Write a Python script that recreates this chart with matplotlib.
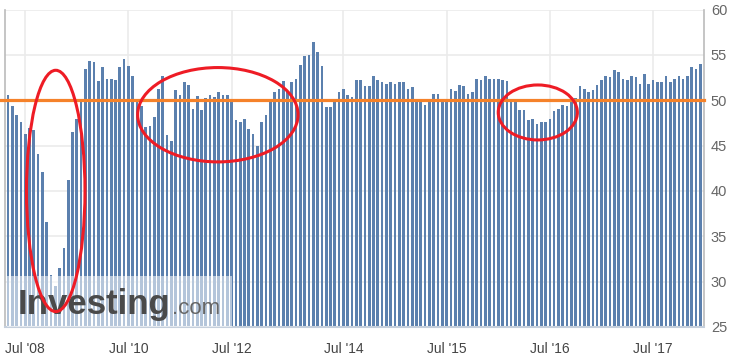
import matplotlib
matplotlib.use("Agg")
import matplotlib.pyplot as plt
from matplotlib.patches import Ellipse, Rectangle
import numpy as np

plt.rcParams['font.family'] = ['Liberation Sans', 'DejaVu Sans']

# bar values, one per release
values = [
    50.6, 49.4, 48.4, 47.6, 46.3, 46.9, 46.7, 44.1, 42.1, 36.6, 30.7, 29.5, 31.5,
    33.7, 41.2, 46.5, 47.9, 49.8, 53.4, 54.3, 54.2, 52.1, 53.7, 52.3, 52.3, 52.2,
    53.7, 54.5, 53.8, 52.7, 49.8, 49.4, 47.0, 47.2, 48.1, 51.2, 52.7, 46.2, 45.5,
    51.1, 50.6, 52.0, 51.7, 49.0, 50.5, 48.9, 50.2, 50.6, 50.4, 50.9, 50.6, 50.6,
    49.8, 47.8,
    47.6, 47.9, 46.8, 46.3, 44.9, 47.6, 48.4, 49.8, 50.9, 51.2, 52.1, 51.0, 52.0,
    52.3, 53.9, 54.9, 55.0, 56.4, 55.3, 53.8, 49.3, 49.3, 50.0, 50.9, 51.2, 50.6,
    50.4,
    52.2, 52.2, 51.6, 51.6, 52.7, 52.2, 52.0, 51.8, 52.0, 51.8, 52.0, 52.0, 51.2,
    51.5, 50.0, 49.8, 49.5, 49.8, 50.7, 50.7, 50.0, 49.8, 51.2, 51.0, 51.7, 51.6,
    50.7,
    50.9, 52.3, 52.2, 52.7, 52.3, 52.3, 52.3, 52.2, 52.1, 50.0, 49.9, 48.9, 48.9,
    47.8, 47.9, 47.4, 47.6, 47.6, 47.9, 48.8, 49.0, 49.5, 49.4, 50.0, 50.2, 51.6,
    51.2, 50.9, 51.1, 51.7, 52.2, 52.7, 52.6, 53.3, 53.1, 52.3, 52.2, 52.7, 52.6,
    51.8, 52.9, 51.8, 52.2, 52.0, 52.0, 52.7, 52.0, 52.3, 52.7, 52.3, 52.7, 53.7,
    53.4, 54.0,
]
tick_idx = [4, 28, 52, 78, 102, 126, 150]
tick_labels = ["Jul '08", "Jul '10", "Jul '12", "Jul '14", "Jul '15", "Jul '16", "Jul '17"]
y_ticks = [25, 30, 35, 40, 45, 50, 55, 60]
threshold = 50

W, H = 731, 359
fig = plt.figure(figsize=(W / 100, H / 100), dpi=100)
ax = fig.add_axes([5 / W, (H - 327) / H, 699 / W, (327 - 9.5) / H])

x = np.arange(len(values))
ax.bar(x, values, width=0.62, color='#5b80ae', zorder=2)
ax.set_xlim(-0.7, 161.85)
ax.set_ylim(25, 60)

ax.set_yticks(y_ticks)
ax.yaxis.tick_right()
ax.set_xticks(tick_idx)
ax.set_xticklabels(tick_labels)
ax.tick_params(axis='y', length=0, pad=5, labelsize=10.5, labelcolor='#666666')
ax.tick_params(axis='x', length=0, pad=11, labelsize=10, labelcolor='#444444')
ax.grid(True, color='#ebebeb', linewidth=1.2, zorder=0)

for s in ['left', 'right']:
    ax.spines[s].set_color('#bbbbbb')
    ax.spines[s].set_linewidth(1.2)
ax.spines['top'].set_visible(False)
ax.spines['bottom'].set_color('#c5cfdc')
ax.spines['bottom'].set_linewidth(1.5)

ax.axhline(threshold, xmin=-0.008, xmax=1.0, color='#f5822a', linewidth=2.3,
           zorder=3, clip_on=False)

# watermark
ax.add_patch(Rectangle((0.003, 0), 0.322, 0.16, transform=ax.transAxes,
                       facecolor='white', alpha=0.55, edgecolor='none', zorder=4))
ax.text(0.0186, 0.041, 'Investing', transform=ax.transAxes, fontsize=25,
        fontweight='bold', color='#4a4a4a', va='baseline', ha='left', zorder=5)
ax.text(0.239, 0.041, '.com', transform=ax.transAxes, fontsize=16,
        color='#666666', va='baseline', ha='left', zorder=5)

# hand-drawn red ellipses
for cx, cy, w, h in [(11.1, 40.0, 13.6, 26.6), (48.8, 48.4, 37.3, 10.4),
                     (123.2, 48.65, 18.4, 6.06)]:
    ax.add_patch(Ellipse((cx, cy), w, h, fill=False, edgecolor='#ee1c25',
                         linewidth=2.2, zorder=6))

fig.savefig('out.png', dpi=100)
